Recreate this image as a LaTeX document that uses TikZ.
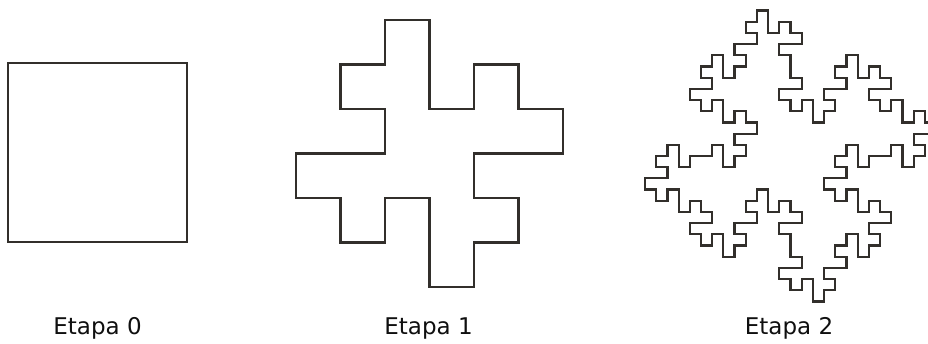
\documentclass[tikz,border=0pt]{standalone}
\usepackage{fontspec}
\setmainfont{DejaVu Sans}
\usetikzlibrary{lindenmayersystems}
\definecolor{ink}{RGB}{50,47,43}
\definecolor{txt}{RGB}{15,15,15}
\pgfdeclarelindenmayersystem{Minkowski}{\rule{F -> F+F-F-FF+F+F-F}}
\begin{document}
\begin{tikzpicture}[x=1pt,y=1pt,
  outline/.style={draw=ink,line width=2.6pt,line join=miter},
  caption/.style={anchor=base,text=txt,inner sep=0pt,font=\fontsize{23}{27}\selectfont}]
\useasboundingbox (0,0) rectangle (928,343);
\clip (0,0) rectangle (928,343);
% Etapa 0
\draw[outline] (8,101) rectangle (187,280);
% Etapa 1
\begin{scope}[shift={(296pt,323pt)},x=44.5pt,y=-44.5pt]
\draw[outline] (2,0) -- (3,0) -- (3,2) -- (4,2) -- (4,1) -- (5,1) -- (5,2) -- (6,2)
  -- (6,3) -- (4,3) -- (4,4) -- (5,4) -- (5,5) -- (4,5) -- (4,6) -- (3,6) -- (3,4)
  -- (2,4) -- (2,5) -- (1,5) -- (1,4) -- (0,4) -- (0,3) -- (2,3) -- (2,2) -- (1,2)
  -- (1,1) -- (2,1) -- cycle;
\end{scope}
% Etapa 2
\begin{scope}[shift={(701pt,276.5pt)}]
\draw[draw=ink,line width=2.2pt,line cap=rect,line join=miter,
  l-system={Minkowski, axiom=F-F-F-F, order=2, step=11.19pt, angle=90}]
  (0,0) l-system;
\end{scope}
% labels
\node[caption] (l0) at (97.5,9) {Etapa 0};
\node[caption] (l1) at (428.5,9) {Etapa 1};
\node[caption] (l2) at (789,9) {Etapa 2};
\end{tikzpicture}
\end{document}
